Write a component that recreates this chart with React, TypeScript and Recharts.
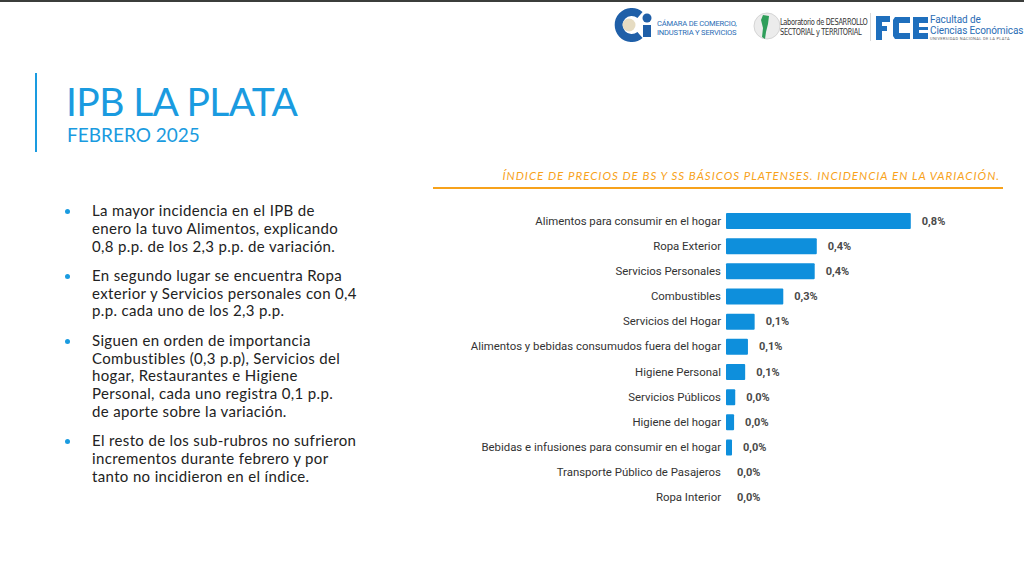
import React from "react";
import { ComposedChart, Bar, Scatter, XAxis, YAxis, LabelList } from "recharts";

const categories = [
  "Alimentos para consumir en el hogar",
  "Ropa Exterior",
  "Servicios Personales",
  "Combustibles",
  "Servicios del Hogar",
  "Alimentos y bebidas consumudos fuera del hogar",
  "Higiene Personal",
  "Servicios Públicos",
  "Higiene del hogar",
  "Bebidas e infusiones para consumir en el hogar",
  "Transporte Público de Pasajeros",
  "Ropa Interior",
];

const incidence = [0.8, 0.393, 0.384, 0.248, 0.124, 0.095, 0.083, 0.04, 0.035, 0.026, 0, 0];

const valueLabels = [
  "0,8%", "0,4%", "0,4%", "0,3%", "0,1%", "0,1%", "0,1%", "0,0%", "0,0%", "0,0%", "0,0%", "0,0%",
];

const data = categories.map((name, i) => ({ name, value: incidence[i], label: valueLabels[i] }));

const bullets = [
  ["La mayor incidencia en el IPB de", "enero la tuvo Alimentos, explicando", "0,8 p.p. de los 2,3 p.p. de variación."],
  ["En segundo lugar se encuentra Ropa", "exterior y Servicios personales con 0,4", "p.p. cada uno de los 2,3 p.p."],
  [
    "Siguen en orden de importancia",
    "Combustibles (0,3 p.p), Servicios del",
    "hogar, Restaurantes e Higiene",
    "Personal, cada uno registra 0,1 p.p.",
    "de aporte sobre la variación.",
  ],
  ["El resto de los sub-rubros no sufrieron", "incrementos durante febrero y por", "tanto no incidieron en el índice."],
];

const BLUE = "#1a9be0";
const ORANGE = "#f7a21b";

const CategoryTick = (props: any) => {
  const { x, y, payload } = props;
  return (
    <text
      x={x}
      y={y}
      dy={4}
      textAnchor="end"
      fill="#333333"
      fontSize={11.4}
      fontFamily="Roboto, sans-serif"
    >
      {payload.value}
    </text>
  );
};

const ValueLabel = (props: any) => {
  const { viewBox, value } = props;
  if (!viewBox) return null;
  const cx = viewBox.x + viewBox.width / 2;
  const cy = viewBox.y + viewBox.height / 2;
  return (
    <text
      x={cx + 11}
      y={cy}
      dy={4}
      textAnchor="start"
      fill="#4a4a4a"
      fontSize={11}
      fontWeight="bold"
      fontFamily="Roboto, sans-serif"
    >
      {value}
    </text>
  );
};

export default function App() {
  return (
    <div
      style={{
        position: "absolute",
        left: 0,
        top: 0,
        width: 1024,
        height: 566,
        background: "#ffffff",
        overflow: "hidden",
        fontFamily: "Lato, sans-serif",
      }}
    >
      {/* top dark strip */}
      <div style={{ position: "absolute", left: 0, top: 0, width: 1024, height: 2, background: "#3b3d3b" }} />

      {/* Logos */}
      <svg style={{ position: "absolute", left: 612, top: 8 }} width={44} height={34}>
        <path d="M 28 7 A 13 13 0 1 0 28 27" fill="none" stroke="#1f5fa8" strokeWidth={8} />
        <circle cx={17} cy={17} r={6.5} fill="#e6dcc2" />
        <circle cx={35} cy={10} r={4.5} fill="#1f5fa8" />
        <rect x={31} y={17} width={8} height={12} fill="#1f5fa8" />
      </svg>
      <div
        style={{
          position: "absolute",
          left: 657,
          top: 20,
          fontSize: 7.6,
          lineHeight: "8.5px",
          color: "#2a6db5",
          fontFamily: "Roboto, sans-serif",
          letterSpacing: -0.2,
          whiteSpace: "nowrap",
        }}
      >
        CÁMARA DE COMERCIO,
        <br />
        INDUSTRIA Y SERVICIOS
      </div>

      <svg style={{ position: "absolute", left: 753, top: 10 }} width={30} height={32}>
        <circle cx={14} cy={16} r={13} fill="#ececec" stroke="#d5d5d5" />
        <path d="M 10 5 L 16 6 L 15 14 L 13 22 L 12 29 L 9 27 L 10 18 L 8 10 Z" fill="#2f9e5a" />
      </svg>
      <div
        style={{
          position: "absolute",
          left: 780,
          top: 17,
          fontSize: 9,
          lineHeight: "10px",
          color: "#333",
          fontFamily: "'DejaVu Sans Condensed', 'Liberation Sans Narrow', sans-serif",
          letterSpacing: -0.4,
          whiteSpace: "nowrap",
          transform: "scaleX(0.82)",
          transformOrigin: "left top",
        }}
      >
        Laboratorio de DESARROLLO
        <br />
        SECTORIAL y TERRITORIAL
      </div>
      <div style={{ position: "absolute", left: 870, top: 13, width: 1, height: 28, background: "#d8d8d8" }} />
      <svg style={{ position: "absolute", left: 876, top: 14 }} width={52} height={27}>
        <rect x={0} y={2} width={6} height={24} fill="#1f6fbd" />
        <rect x={0} y={2} width={14} height={6} fill="#1f6fbd" />
        <rect x={0} y={12} width={11} height={5} fill="#1f6fbd" />
        <path d="M 34 3 L 19 3 L 17 6 L 17 22 L 19 25 L 34 25 L 34 19 L 23 19 L 23 9 L 34 9 Z" fill="#1f6fbd" />
        <rect x={37} y={3} width={15} height={22} fill="#1f6fbd" />
        <rect x={43} y={9} width={9} height={4} fill="#ffffff" />
        <rect x={43} y={16} width={9} height={3} fill="#ffffff" />
      </svg>
      <div
        style={{
          position: "absolute",
          left: 930,
          top: 14,
          fontSize: 10,
          lineHeight: "11px",
          color: "#2a6db5",
          fontFamily: "Roboto, sans-serif",
          letterSpacing: -0.1,
          whiteSpace: "nowrap",
        }}
      >
        Facultad de
        <br />
        Ciencias Económicas
      </div>
      <div
        style={{
          position: "absolute",
          left: 930,
          top: 37,
          fontSize: 4,
          lineHeight: "4px",
          color: "#666",
          fontFamily: "Roboto, sans-serif",
          letterSpacing: 0.3,
          whiteSpace: "nowrap",
        }}
      >
        UNIVERSIDAD NACIONAL DE LA PLATA
      </div>

      {/* Title */}
      <div style={{ position: "absolute", left: 35, top: 73, width: 2, height: 79, background: BLUE }} />
      <div
        style={{
          position: "absolute",
          left: 66,
          top: 81,
          fontSize: 39,
          lineHeight: "40px",
          letterSpacing: -0.6,
          color: BLUE,
          whiteSpace: "nowrap",
        }}
      >
        IPB LA PLATA
      </div>
      <div
        style={{
          position: "absolute",
          left: 67,
          top: 123,
          fontSize: 19,
          lineHeight: "24px",
          color: BLUE,
          whiteSpace: "nowrap",
        }}
      >
        FEBRERO 2025
      </div>

      {/* Bullets */}
      <div style={{ position: "absolute", left: 92, top: 202, color: "#222", fontSize: 15, letterSpacing: 0.35 }}>
        {bullets.map((lines, i) => (
          <div key={i} style={{ position: "relative", marginBottom: 11.5 }}>
            <div
              style={{
                position: "absolute",
                left: -27,
                top: 7,
                width: 5,
                height: 5,
                borderRadius: 3,
                background: BLUE,
              }}
            />
            {lines.map((l, j) => (
              <div key={j} style={{ lineHeight: "17.8px", whiteSpace: "nowrap" }}>
                {l}
              </div>
            ))}
          </div>
        ))}
      </div>

      {/* Chart title */}
      <div
        style={{
          position: "absolute",
          right: 24,
          top: 168,
          fontSize: 11.5,
          lineHeight: "16px",
          color: ORANGE,
          fontStyle: "italic",
          letterSpacing: 1.0,
          whiteSpace: "nowrap",
        }}
      >
        ÍNDICE DE PRECIOS DE BS Y SS BÁSICOS PLATENSES. INCIDENCIA EN LA VARIACIÓN.
      </div>
      <div style={{ position: "absolute", left: 433, top: 187, width: 570, height: 2, background: ORANGE }} />

      {/* Chart */}
      <div style={{ position: "absolute", left: 440, top: 208 }}>
        <ComposedChart
          width={520}
          height={302}
          data={data}
          layout="vertical"
          margin={{ top: 0, right: 3, bottom: 0, left: 0 }}
        >
          <XAxis type="number" dataKey="value" domain={[0, 1]} hide />
          <YAxis
            type="category"
            dataKey="name"
            width={286}
            interval={0}
            tickLine={false}
            axisLine={false}
            tickSize={3}
            tickMargin={2}
            tick={<CategoryTick />}
          />
          <Bar dataKey="value" fill="#0e8fdc" barSize={16} radius={1} isAnimationActive={false} />
          <Scatter dataKey="value" shape={() => <g />} isAnimationActive={false}>
            <LabelList dataKey="label" content={<ValueLabel />} />
          </Scatter>
        </ComposedChart>
      </div>
    </div>
  );
}
